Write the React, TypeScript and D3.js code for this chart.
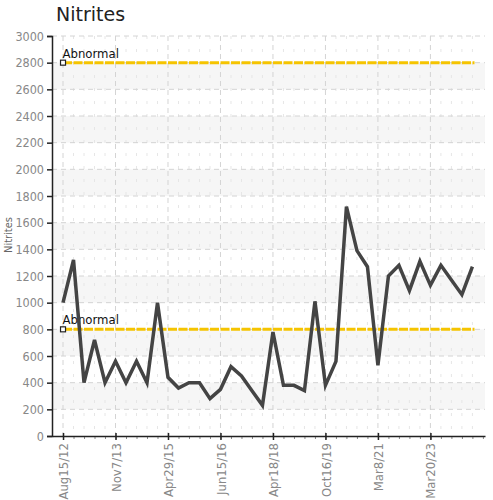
import React, { useRef, useEffect } from 'react';
import * as d3 from 'd3';

// nitrite readings, one per sample
const values = [1000, 1320, 400, 720, 400, 560, 400, 560, 400, 1000,
  440, 360, 400, 400, 280, 350, 520, 450, 340, 230,
  780, 380, 380, 340, 1010, 380, 560, 1720, 1390, 1270,
  530, 1200, 1280, 1090, 1310, 1130, 1280, 1170, 1060, 1270];

// date label every 5th sample
const tickIndex = [0, 5, 10, 15, 20, 25, 30, 35];
const tickLabels = ['Aug15/12', 'Nov7/13', 'Apr29/15', 'Jun15/16', 'Apr18/18', 'Oct16/19', 'Mar8/21', 'Mar20/23'];

const limits = [2800, 800];
const limitLabel = 'Abnormal';
const yTicks = d3.range(0, 3001, 200);

export default function App() {
  const svgRef = useRef(null);

  useEffect(() => {
    const width = 493, height = 500;
    const left = 52, right = 485, top = 36, bottom = 436;
    const font = '"DejaVu Sans Condensed", "DejaVu Sans", sans-serif';

    const svg = d3.select(svgRef.current);
    svg.selectAll('*').remove();
    svg.attr('width', width).attr('height', height);

    var x = d3.scaleLinear().domain([-1.05, 40.2]).range([left, right]);
    var y = d3.scaleLinear().domain([0, 3000]).range([bottom, top]);

    // alternating bands
    svg.append('g').selectAll('rect')
      .data(yTicks.filter(function (d) { return d % 400 === 200 && d < 3000; }))
      .enter().append('rect')
      .attr('x', left)
      .attr('width', right - left)
      .attr('y', function (d) { return y(d + 200); })
      .attr('height', function (d) { return y(d) - y(d + 200); })
      .attr('fill', '#f6f6f6');

    // minor vertical grid
    svg.append('g').selectAll('line')
      .data(d3.range(0, 40).filter(function (i) { return i % 5 !== 0; }))
      .enter().append('line')
      .attr('x1', function (d) { return x(d); })
      .attr('x2', function (d) { return x(d); })
      .attr('y1', top).attr('y2', bottom)
      .attr('stroke', '#e6e6e6')
      .attr('stroke-dasharray', '3 10');

    // major grid
    svg.append('g').selectAll('line')
      .data(tickIndex)
      .enter().append('line')
      .attr('x1', function (d) { return x(d); })
      .attr('x2', function (d) { return x(d); })
      .attr('y1', top).attr('y2', bottom)
      .attr('stroke', '#d4d4d4')
      .attr('stroke-dasharray', '5 4');

    svg.append('g').selectAll('line')
      .data(yTicks.filter(function (d) { return d > 0; }))
      .enter().append('line')
      .attr('x1', left).attr('x2', right)
      .attr('y1', function (d) { return y(d); })
      .attr('y2', function (d) { return y(d); })
      .attr('stroke', '#d4d4d4')
      .attr('stroke-dasharray', '5 4');

    // y axis
    const yAxis = svg.append('g')
      .attr('transform', 'translate(' + left + ',0)')
      .call(d3.axisLeft(y).tickValues(yTicks).tickSize(5).tickPadding(3).tickFormat(d3.format('d')));
    yAxis.select('.domain').attr('stroke', '#222').attr('stroke-width', 1.5);
    yAxis.selectAll('.tick line').attr('stroke', '#222').attr('stroke-width', 1.5);
    yAxis.selectAll('text').attr('fill', '#888').style('font-family', font).style('font-size', '12.5px');

    // x axis, minor ticks then major
    const xMinor = svg.append('g')
      .attr('transform', 'translate(0,' + bottom + ')')
      .call(d3.axisBottom(x).tickValues(d3.range(0, 41)).tickSize(3).tickFormat(function () { return ''; }));
    xMinor.select('.domain').remove();
    xMinor.selectAll('.tick line').attr('stroke', '#888');

    const xAxis = svg.append('g')
      .attr('transform', 'translate(0,' + bottom + ')')
      .call(d3.axisBottom(x).tickValues(tickIndex).tickSize(5).tickSizeOuter(0)
        .tickFormat(function (d, i) { return tickLabels[i]; }));
    xAxis.select('.domain').attr('stroke', '#222').attr('stroke-width', 1.5);
    xAxis.selectAll('.tick line').attr('stroke', '#222').attr('stroke-width', 1.5)
      .attr('y1', -3).attr('y2', 4);
    xAxis.selectAll('text')
      .attr('fill', '#888')
      .style('font-family', font)
      .style('font-size', '13px')
      .attr('text-anchor', 'end')
      .attr('transform', 'rotate(-90)')
      .attr('x', -7).attr('y', 0).attr('dy', '0.35em');

    // limit lines
    limits.forEach(function (v) {
      svg.append('line')
        .attr('x1', x(0)).attr('x2', x(39.2))
        .attr('y1', y(v)).attr('y2', y(v))
        .attr('stroke', '#f5c400')
        .attr('stroke-width', 3)
        .attr('stroke-dasharray', '9 1.5');
      svg.append('rect')
        .attr('x', x(0) - 2.5).attr('y', y(v) - 2.5)
        .attr('width', 5).attr('height', 5)
        .attr('fill', '#fff').attr('stroke', '#222').attr('stroke-width', 1.2);
      svg.append('text')
        .attr('x', x(0) - 0.5).attr('y', y(v) - 5)
        .attr('fill', '#111')
        .style('font-family', font)
        .style('font-size', '13px')
        .text(limitLabel);
    });

    // data line
    var line = d3.line()
      .x(function (d, i) { return x(i); })
      .y(function (d) { return y(d); });

    svg.append('path')
      .datum(values)
      .attr('d', line)
      .attr('fill', 'none')
      .attr('stroke', '#444')
      .attr('stroke-width', 3.5)
      .attr('stroke-linejoin', 'miter');

    // titles
    svg.append('text')
      .attr('x', 56).attr('y', 21)
      .attr('fill', '#222')
      .style('font-family', '"DejaVu Sans", sans-serif')
      .style('font-size', '19px')
      .text('Nitrites');

    svg.append('text')
      .attr('transform', 'translate(12,235) rotate(-90)')
      .attr('text-anchor', 'middle')
      .attr('fill', '#666')
      .style('font-family', font)
      .style('font-size', '11px')
      .text('Nitrites');
  }, []);

  return (
    <svg ref={svgRef} style={{ position: 'absolute', left: 0, top: 0 }}></svg>
  );
}
